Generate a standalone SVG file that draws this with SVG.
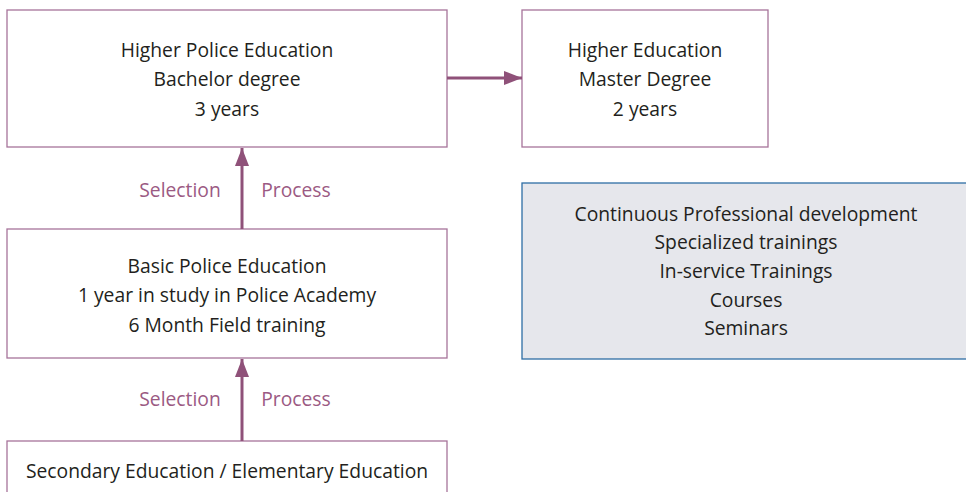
<svg xmlns="http://www.w3.org/2000/svg" width="966" height="492" viewBox="0 0 966 492">
<style>
.box{fill:#ffffff;stroke:#a7739a;stroke-width:1.3}
.cpd{fill:#e6e7ec;stroke:#2f6ea5;stroke-width:1.3}
.t{font-family:"Open Sans","Noto Sans","Liberation Sans",sans-serif;font-size:19.3px;fill:#231f20;text-anchor:middle}
.lbl{font-family:"Open Sans","Noto Sans","Liberation Sans",sans-serif;font-size:19.3px;fill:#9b5a83;text-anchor:middle}
.conn{stroke:#8f5179;stroke-width:3;fill:none}
</style>
<defs>
<marker id="ah" viewBox="0 0 18 14" refX="18" refY="7" markerWidth="18" markerHeight="14" markerUnits="userSpaceOnUse" orient="auto">
<path d="M0,0 L18,7 L0,14 Z" fill="#8f5179"/>
</marker>
</defs>
<g id="higher-police">
<rect class="box" x="7" y="10" width="440" height="137"/>
<text class="t" x="227" y="57">Higher Police Education</text>
<text class="t" x="227" y="86">Bachelor degree</text>
<text class="t" x="227" y="116">3 years</text>
</g>
<g id="master">
<rect class="box" x="522" y="10" width="246" height="137"/>
<text class="t" x="645" y="57">Higher Education</text>
<text class="t" x="645" y="86">Master Degree</text>
<text class="t" x="645" y="116">2 years</text>
</g>
<g id="basic-police">
<rect class="box" x="7" y="229" width="440" height="129"/>
<text class="t" x="227" y="273">Basic Police Education</text>
<text class="t" x="227" y="302">1 year in study in Police Academy</text>
<text class="t" x="227" y="332">6 Month Field training</text>
</g>
<g id="secondary">
<rect class="box" x="7" y="441" width="440" height="60"/>
<text class="t" x="227" y="478">Secondary Education / Elementary Education</text>
</g>
<g id="cpd">
<rect class="cpd" x="522" y="183" width="450" height="176"/>
<text class="t" x="746" y="221">Continuous Professional development</text>
<text class="t" x="746" y="249">Specialized trainings</text>
<text class="t" x="746" y="278">In-service Trainings</text>
<text class="t" x="746" y="307">Courses</text>
<text class="t" x="746" y="335">Seminars</text>
</g>
<g id="connectors">
<line class="conn" x1="447" y1="78" x2="522" y2="78" marker-end="url(#ah)"/>
<line class="conn" x1="242" y1="229" x2="242" y2="148" marker-end="url(#ah)"/>
<line class="conn" x1="242" y1="441" x2="242" y2="359" marker-end="url(#ah)"/>
<text class="lbl" x="180" y="197">Selection</text>
<text class="lbl" x="296" y="197">Process</text>
<text class="lbl" x="180" y="406">Selection</text>
<text class="lbl" x="296" y="406">Process</text>
</g>
</svg>
